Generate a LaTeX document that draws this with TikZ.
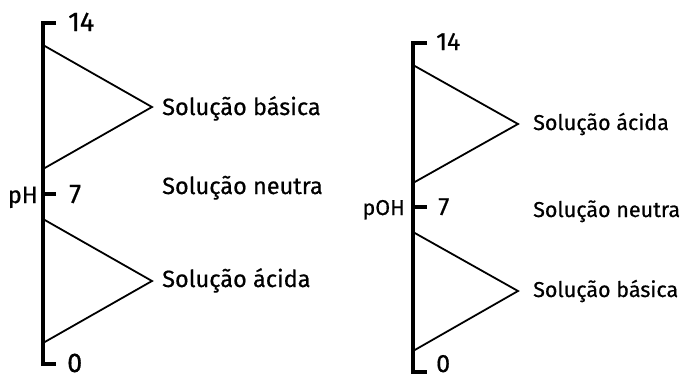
\documentclass[tikz,border=0pt]{standalone}
\usepackage{fontspec}
\setmainfont[FakeBold=0.6]{Fira Sans}
\usetikzlibrary{positioning}

\tikzset{
  axis/.style={line width=3.5pt, line cap=butt},
  wedge/.style={line width=1.8pt, line join=miter},
  lbl/.style={inner sep=0pt, font=\fontsize{23.5}{28}\selectfont},
  lblr/.style={inner sep=0pt, font=\fontsize{21.5}{26}\selectfont},
  num/.style={inner sep=0pt, font=\fontsize{27}{32}\selectfont},
  numr/.style={inner sep=0pt, font=\fontsize{25}{30}\selectfont},
}

\begin{document}
\begin{tikzpicture}[x=1pt, y=-1pt]
  \useasboundingbox (0,0) rectangle (691,378);

  % pH scale
  \draw[axis] (56,23) -- (43,23) -- (43,364) -- (56,364);
  \draw[axis] (43,194) -- (56,194);
  \coordinate (phB) at (152,107);
  \coordinate (phA) at (152,281);
  \draw[wedge] (43,45) -- (phB) -- (43,169);
  \draw[wedge] (43,219) -- (phA) -- (43,343);
  \node[num, anchor=base west] (ph14) at (68,31) {14};
  \node[num, anchor=base west] (ph7) at (69,203) {7};
  \node[num, anchor=base west] (ph0) at (67,372) {0};
  \node[lbl, anchor=base east] (ph) at (38,203) {pH};
  \node[lbl, anchor=base west] (phbas) at (162,115) {Solução básica};
  \node[lbl, anchor=base west] (phneu) at (162,194) {Solução neutra};
  \node[lbl, anchor=base west] (phaci) at (162,287) {Solução ácida};

  % pOH scale
  \draw[axis] (427,43) -- (413,43) -- (413,372) -- (427,372);
  \draw[axis] (413,207) -- (427,207);
  \coordinate (pohA) at (518,124);
  \coordinate (pohB) at (518,291);
  \draw[wedge] (413,65) -- (pohA) -- (413,183);
  \draw[wedge] (413,232) -- (pohB) -- (413,351);
  \node[numr, anchor=base west] (poh14) at (436,50) {14};
  \node[numr, anchor=base west] (poh7) at (438,215) {7};
  \node[numr, anchor=base west] (poh0) at (436,372) {0};
  \node[lblr, anchor=base east] (poh) at (405,215) {pOH};
  \node[lblr, anchor=base west] (pohaci) at (533,130) {Solução ácida};
  \node[lblr, anchor=base west] (pohneu) at (533,217) {Solução neutra};
  \node[lblr, anchor=base west] (pohbas) at (533,297) {Solução básica};
\end{tikzpicture}
\end{document}
